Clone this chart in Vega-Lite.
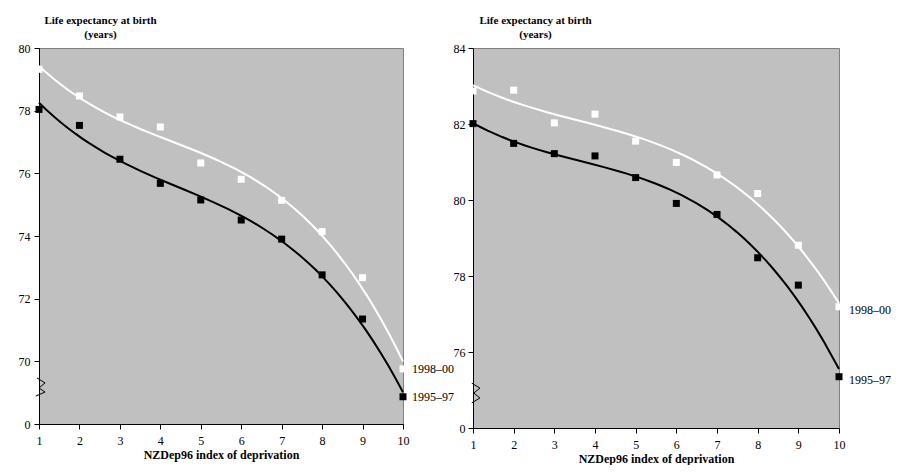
{
  "$schema": "https://vega.github.io/schema/vega-lite/v6.json",
  "background": "white",
  "padding": {"left": 17, "top": 13, "right": 0, "bottom": 0},
  "bounds": "flush",
  "spacing": 70,
  "config": {
    "font": "Liberation Serif",
    "view": {"fill": "#C0C0C0", "stroke": "#808080", "strokeWidth": 1},
    "axis": {
      "grid": false,
      "domainColor": "black",
      "tickColor": "black",
      "labelColor": "black",
      "titleColor": "black",
      "labelFont": "Liberation Serif",
      "titleFont": "Liberation Serif",
      "labelFontSize": 12,
      "titleFontSize": 12,
      "titleFontWeight": "bold",
      "tickSize": 5,
      "labelFlush": false,
      "labelOverlap": false
    }
  },
  "datasets": {
    "male": [
      {"dep": 1, "period": "1995–97", "le": 78.04},
      {"dep": 2, "period": "1995–97", "le": 77.53},
      {"dep": 3, "period": "1995–97", "le": 76.45},
      {"dep": 4, "period": "1995–97", "le": 75.68},
      {"dep": 5, "period": "1995–97", "le": 75.15},
      {"dep": 6, "period": "1995–97", "le": 74.51},
      {"dep": 7, "period": "1995–97", "le": 73.9},
      {"dep": 8, "period": "1995–97", "le": 72.76},
      {"dep": 9, "period": "1995–97", "le": 71.35},
      {"dep": 10, "period": "1995–97", "le": 68.87},
      {"dep": 1, "period": "1998–00", "le": 79.32},
      {"dep": 2, "period": "1998–00", "le": 78.47},
      {"dep": 3, "period": "1998–00", "le": 77.8},
      {"dep": 4, "period": "1998–00", "le": 77.48},
      {"dep": 5, "period": "1998–00", "le": 76.33},
      {"dep": 6, "period": "1998–00", "le": 75.81},
      {"dep": 7, "period": "1998–00", "le": 75.14},
      {"dep": 8, "period": "1998–00", "le": 74.14},
      {"dep": 9, "period": "1998–00", "le": 72.67},
      {"dep": 10, "period": "1998–00", "le": 69.76}
    ],
    "female": [
      {"dep": 1, "period": "1995–97", "le": 82.01},
      {"dep": 2, "period": "1995–97", "le": 81.49},
      {"dep": 3, "period": "1995–97", "le": 81.22},
      {"dep": 4, "period": "1995–97", "le": 81.16},
      {"dep": 5, "period": "1995–97", "le": 80.59},
      {"dep": 6, "period": "1995–97", "le": 79.91},
      {"dep": 7, "period": "1995–97", "le": 79.62},
      {"dep": 8, "period": "1995–97", "le": 78.48},
      {"dep": 9, "period": "1995–97", "le": 77.76},
      {"dep": 10, "period": "1995–97", "le": 75.35},
      {"dep": 1, "period": "1998–00", "le": 82.87},
      {"dep": 2, "period": "1998–00", "le": 82.89},
      {"dep": 3, "period": "1998–00", "le": 82.03},
      {"dep": 4, "period": "1998–00", "le": 82.26},
      {"dep": 5, "period": "1998–00", "le": 81.55},
      {"dep": 6, "period": "1998–00", "le": 80.99},
      {"dep": 7, "period": "1998–00", "le": 80.66},
      {"dep": 8, "period": "1998–00", "le": 80.17},
      {"dep": 9, "period": "1998–00", "le": 78.81},
      {"dep": 10, "period": "1998–00", "le": 77.19}
    ],
    "maleBreak": [
      {"i": 0, "dep": 0.95, "le": 69.47},
      {"i": 1, "dep": 1.15, "le": 69.31},
      {"i": 2, "dep": 1.0, "le": 69.15},
      {"i": 3, "dep": 1.15, "le": 69.02},
      {"i": 4, "dep": 0.92, "le": 68.89}
    ],
    "femaleBreak": [
      {"i": 0, "dep": 0.97, "le": 75.18},
      {"i": 1, "dep": 1.17, "le": 75.05},
      {"i": 2, "dep": 1.02, "le": 74.92},
      {"i": 3, "dep": 1.17, "le": 74.79},
      {"i": 4, "dep": 0.97, "le": 74.66}
    ]
  },
  "hconcat": [
    {
      "width": 364,
      "height": 376,
      "data": {"name": "male"},
      "encoding": {
        "x": {
          "field": "dep",
          "type": "quantitative",
          "scale": {"domain": [1, 10], "nice": false, "zero": false},
          "axis": {
            "values": [1, 2, 3, 4, 5, 6, 7, 8, 9, 10],
            "title": "NZDep96 index of deprivation",
            "labelPadding": 6,
            "titlePadding": 3
          }
        },
        "y": {
          "field": "le",
          "type": "quantitative",
          "scale": {"domain": [68, 80], "nice": false, "zero": false},
          "axis": {
            "values": [68, 70, 72, 74, 76, 78, 80],
            "labelExpr": "datum.value == 68 ? '0' : datum.label",
            "labelPadding": 4,
            "title": ["Life expectancy at birth", "(years)"],
            "titleAngle": 0,
            "titleAlign": "center",
            "titleBaseline": "alphabetic",
            "titleX": 61,
            "titleY": -25,
            "titleFontSize": 11,
            "titleLineHeight": 14
          }
        }
      },
      "layer": [
        {
          "transform": [
            {"regression": "le", "on": "dep", "groupby": ["period"], "method": "poly", "order": 3}
          ],
          "mark": {"type": "line", "strokeWidth": 2},
          "encoding": {
            "color": {"field": "period", "type": "nominal", "scale": {"domain": ["1995–97", "1998–00"], "range": ["black", "white"]}, "legend": null}
          }
        },
        {
          "mark": {"type": "square", "size": 49, "opacity": 1, "filled": true},
          "encoding": {
            "color": {"field": "period", "type": "nominal", "scale": {"domain": ["1995–97", "1998–00"], "range": ["black", "white"]}, "legend": null}
          }
        },
        {
          "transform": [{"filter": "datum.dep == 10"}],
          "mark": {"type": "text", "align": "left", "baseline": "middle", "dx": 9, "fontSize": 12, "color": "black"},
          "encoding": {"text": {"field": "period"}}
        },
        {
          "data": {"values": [{"label": "Male"}]},
          "mark": {"type": "text", "fontSize": 15, "fontWeight": "bold", "color": "black"},
          "encoding": {
            "x": {"datum": 7.6},
            "y": {"datum": 78.98},
            "text": {"field": "label"}
          }
        },
        {
          "data": {"name": "maleBreak"},
          "mark": {"type": "line", "color": "black", "strokeWidth": 1},
          "encoding": {"order": {"field": "i"}}
        }
      ]
    },
    {
      "width": 366,
      "height": 380,
      "data": {"name": "female"},
      "encoding": {
        "x": {
          "field": "dep",
          "type": "quantitative",
          "scale": {"domain": [1, 10], "nice": false, "zero": false},
          "axis": {
            "values": [1, 2, 3, 4, 5, 6, 7, 8, 9, 10],
            "title": "NZDep96 index of deprivation",
            "labelPadding": 6,
            "titlePadding": 3
          }
        },
        "y": {
          "field": "le",
          "type": "quantitative",
          "scale": {"domain": [74, 84], "nice": false, "zero": false},
          "axis": {
            "values": [74, 76, 78, 80, 82, 84],
            "labelExpr": "datum.value == 74 ? '0' : datum.label",
            "labelPadding": 3,
            "title": ["Life expectancy at birth", "(years)"],
            "titleAngle": 0,
            "titleAlign": "center",
            "titleBaseline": "alphabetic",
            "titleX": 62,
            "titleY": -25,
            "titleFontSize": 11,
            "titleLineHeight": 14
          }
        }
      },
      "layer": [
        {
          "transform": [
            {"regression": "le", "on": "dep", "groupby": ["period"], "method": "poly", "order": 3}
          ],
          "mark": {"type": "line", "strokeWidth": 2},
          "encoding": {
            "color": {"field": "period", "type": "nominal", "scale": {"domain": ["1995–97", "1998–00"], "range": ["black", "white"]}, "legend": null}
          }
        },
        {
          "mark": {"type": "square", "size": 49, "opacity": 1, "filled": true},
          "encoding": {
            "color": {"field": "period", "type": "nominal", "scale": {"domain": ["1995–97", "1998–00"], "range": ["black", "white"]}, "legend": null}
          }
        },
        {
          "transform": [{"filter": "datum.dep == 10"}],
          "mark": {"type": "text", "align": "left", "baseline": "middle", "dx": 10, "dy": 3, "fontSize": 12, "color": "black"},
          "encoding": {"text": {"field": "period"}}
        },
        {
          "data": {"values": [{"label": "Female"}]},
          "mark": {"type": "text", "fontSize": 15, "fontWeight": "bold", "color": "black"},
          "encoding": {
            "x": {"datum": 7.61},
            "y": {"datum": 83.16},
            "text": {"field": "label"}
          }
        },
        {
          "data": {"name": "femaleBreak"},
          "mark": {"type": "line", "color": "black", "strokeWidth": 1},
          "encoding": {"order": {"field": "i"}}
        }
      ]
    }
  ]
}
